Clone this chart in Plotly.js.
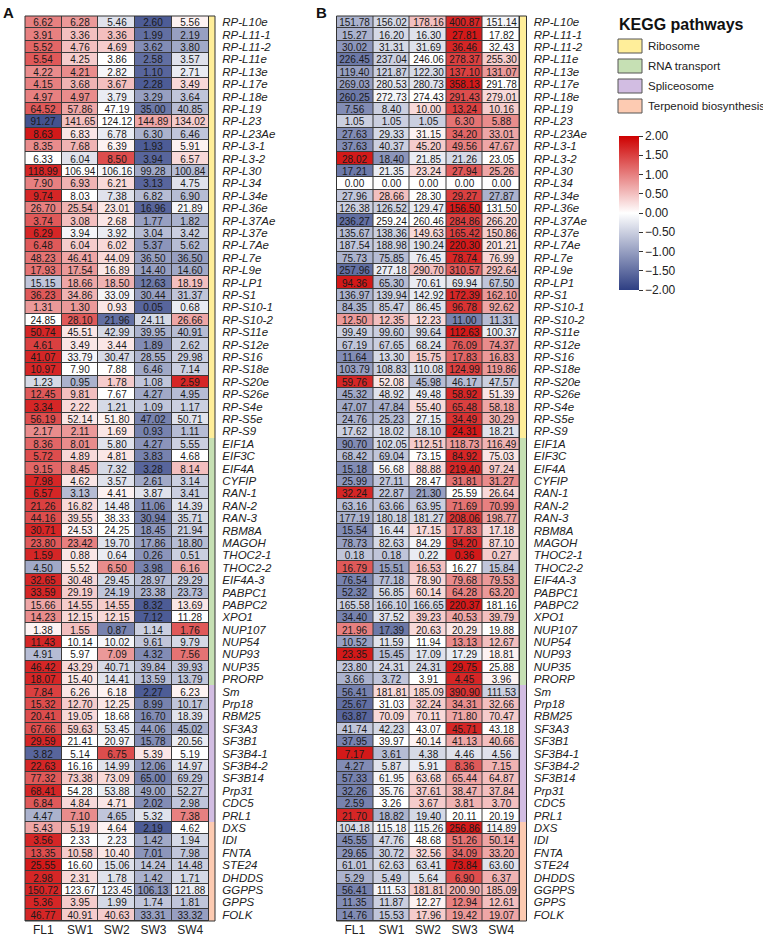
<!DOCTYPE html>
<html>
<head>
<meta charset="utf-8">
<script src="https://cdn.plot.ly/plotly-3.0.1.min.js"></script>
<style>html,body{margin:0;padding:0;background:#fff;}#chart{width:763px;height:940px;}</style>
</head>
<body>
<div id="chart"></div>
<script>
const samples = ['FL1','SW1','SW2','SW3','SW4'];

const ribosomeGenes = ['RP-L10e','RP-L11-1','RP-L11-2','RP-L11e','RP-L13e','RP-L17e','RP-L18e','RP-L19','RP-L23','RP-L23Ae','RP-L3-1','RP-L3-2','RP-L30','RP-L34','RP-L34e','RP-L36e','RP-L37Ae','RP-L37e','RP-L7Ae','RP-L7e','RP-L9e','RP-LP1','RP-S1','RP-S10-1','RP-S10-2','RP-S11e','RP-S12e','RP-S16','RP-S18e','RP-S20e','RP-S26e','RP-S4e','RP-S5e','RP-S9'];
const rnaTransportGenes = ['EIF1A','EIF3C','EIF4A','CYFIP','RAN-1','RAN-2','RAN-3','RBM8A','MAGOH','THOC2-1','THOC2-2','EIF4A-3','PABPC1','PABPC2','XPO1','NUP107','NUP54','NUP93','NUP35','PRORP'];
const spliceosomeGenes = ['Sm','Prp18','RBM25','SF3A3','SF3B1','SF3B4-1','SF3B4-2','SF3B14','Prp31','CDC5','PRL1'];
const terpenoidGenes = ['DXS','IDI','FNTA','STE24','DHDDS','GGPPS','GPPS','FOLK'];

const pathways = ['Ribosome','RNA transport','Spliceosome','Terpenoid biosynthesis'];
const pathwayColors = ['#FFEE9A','#C6E0B4','#D2BDE2','#FDCBB2'];

// Panel A displayed values
const valuesA = [
[6.62,6.28,5.46,2.60,5.56],[3.91,3.36,3.36,1.99,2.19],[5.52,4.76,4.69,3.62,3.80],[5.54,4.25,3.86,2.58,3.57],
[4.22,4.21,2.82,1.10,2.71],[4.15,3.68,3.67,2.28,3.49],[4.97,4.97,3.79,3.29,3.64],[64.52,57.86,47.19,35.00,40.85],
[91.27,141.65,124.12,144.89,134.02],[8.63,6.83,6.78,6.30,6.46],[8.35,7.68,6.39,1.93,5.91],[6.33,6.04,8.50,3.94,6.57],
[118.99,106.94,106.16,99.28,100.84],[7.90,6.93,6.21,3.13,4.75],[9.74,8.03,7.38,6.82,6.90],[26.70,25.54,23.01,16.96,21.89],
[3.74,3.08,2.68,1.77,1.82],[6.29,3.94,3.92,3.04,3.42],[6.48,6.04,6.02,5.37,5.62],[48.23,46.41,44.09,36.50,36.50],
[17.93,17.54,16.89,14.40,14.60],[15.15,18.66,18.50,12.63,18.19],[36.23,34.86,33.09,30.44,31.37],[1.31,1.30,0.93,0.05,0.68],
[24.85,28.10,21.96,24.11,26.66],[50.74,45.51,42.99,39.95,40.91],[4.61,3.49,3.44,1.89,2.62],[41.07,33.79,30.47,28.55,29.98],
[10.97,7.90,7.88,6.46,7.14],[1.23,0.95,1.78,1.08,2.59],[12.45,9.81,7.67,4.27,4.95],[3.34,2.22,1.21,1.09,1.17],
[56.19,52.14,51.80,47.02,50.71],[2.17,2.11,1.69,0.93,1.11],
[8.36,8.01,5.80,4.27,5.55],[5.72,4.89,4.81,3.83,4.68],[9.15,8.45,7.32,3.28,8.14],[7.98,4.62,3.57,2.61,3.14],
[6.57,3.13,4.41,3.87,3.41],[21.26,16.82,14.48,11.06,14.39],[44.16,39.55,38.33,30.94,35.71],[30.71,24.53,24.25,18.45,21.94],
[23.80,23.42,19.70,17.86,18.80],[1.59,0.88,0.64,0.26,0.51],[4.50,5.52,6.50,3.98,6.16],[32.65,30.48,29.45,28.97,29.29],
[33.59,29.19,24.19,23.38,23.73],[15.66,14.55,14.55,8.32,13.69],[14.23,12.15,12.15,7.12,11.28],[1.38,1.55,0.87,1.14,1.76],
[11.43,10.14,10.02,9.61,9.79],[4.91,5.97,7.09,4.32,7.56],[46.42,43.29,40.71,39.84,39.93],[18.07,15.40,14.41,13.59,13.79],
[7.84,6.26,6.18,2.27,6.23],[15.32,12.70,12.25,8.99,10.17],[20.41,19.05,18.68,16.70,18.39],[67.66,59.63,53.45,44.06,45.02],
[29.59,21.41,20.97,15.78,20.56],[3.82,5.14,6.75,5.39,5.19],[22.63,16.16,14.99,12.06,14.97],[77.32,73.38,73.09,65.00,69.29],
[68.41,54.28,53.88,49.00,52.27],[6.84,4.84,4.71,2.02,2.98],[4.47,7.10,4.65,5.32,7.38],
[5.43,5.19,4.64,2.19,4.62],[3.56,2.33,2.23,1.42,1.94],[13.35,10.58,10.40,7.01,7.98],[25.55,16.60,15.06,14.24,14.48],
[2.98,2.31,1.78,1.42,1.71],[150.72,123.67,123.45,106.13,121.88],[5.36,3.95,1.99,1.74,1.81],[46.77,40.91,40.63,33.31,33.32]
];

// Panel A colour scores
const colorA = [
[1.0,0.8,-0.3,-1.7,0.1],[1.0,0.5,0.5,-1.5,-1.0],[1.2,0.5,0.4,-1.2,-0.9],[1.3,0.4,0.0,-1.5,-0.3],
[0.9,0.9,-0.1,-1.6,-0.2],[1.0,0.6,0.5,-1.7,0.3],[1.0,0.9,-0.2,-1.0,-0.6],[1.3,0.7,0.0,-1.4,-0.7],
[-1.8,0.5,0.0,0.7,0.4],[1.8,0.2,-0.2,-0.8,-0.6],[0.9,0.6,0.1,-1.7,0.1],[0.0,-0.3,1.4,-1.6,0.3],
[1.7,0.0,-0.1,-0.9,-0.7],[1.0,0.6,0.3,-1.6,-0.3],[1.7,0.0,-0.3,-0.7,-0.7],[1.0,0.6,0.2,-1.6,-0.1],
[1.3,0.5,0.2,-1.0,-0.8],[1.7,-0.1,-0.2,-0.7,-0.5],[1.3,0.4,0.3,-1.1,-0.7],[1.1,0.7,0.3,-1.0,-1.0],
[1.1,0.8,0.2,-1.0,-0.9],[-0.6,0.7,0.6,-1.4,0.5],[1.3,0.6,-0.1,-1.0,-0.6],[0.8,0.8,0.2,-1.6,-0.2],
[0.0,1.3,-1.5,-0.4,0.7],[1.7,0.2,-0.4,-0.8,-0.7],[1.5,0.2,0.2,-1.2,-0.5],[1.7,-0.1,-0.4,-0.8,-0.5],
[1.7,0.0,0.0,-0.9,-0.5],[-0.4,-0.8,0.4,-0.6,1.7],[1.3,0.5,0.0,-0.9,-0.7],[1.7,0.3,-0.4,-0.6,-0.5],
[1.4,0.2,0.1,-1.3,-0.3],[0.9,0.8,0.2,-1.3,-0.7],
[1.2,0.9,-0.3,-1.1,-0.5],[1.4,0.3,0.2,-1.3,0.0],[1.2,0.8,-0.4,-1.6,0.5],[1.7,0.2,-0.3,-0.9,-0.5],
[1.7,-0.7,0.1,-0.3,-0.5],[1.5,0.3,-0.2,-1.2,-0.3],[1.4,0.3,0.0,-1.3,-0.4],[1.7,0.1,0.0,-1.1,-0.5],
[1.3,1.0,-0.3,-1.0,-0.7],[1.7,0.2,-0.2,-1.1,-0.5],[-0.9,0.2,0.9,-1.3,0.7],[1.7,0.3,-0.4,-0.7,-0.5],
[1.7,0.4,-0.6,-0.8,-0.7],[0.7,0.4,0.4,-1.7,0.2],[0.9,0.3,0.3,-1.7,0.0],[0.1,0.5,-1.3,-0.5,1.3],
[1.7,0.0,-0.1,-0.6,-0.4],[-0.7,0.0,0.8,-1.2,1.1],[1.7,0.3,-0.4,-0.7,-0.6],[1.7,0.2,-0.3,-0.7,-0.6],
[1.5,0.2,0.1,-1.7,0.1],[1.4,0.4,0.2,-1.3,-0.6],[1.4,0.3,0.0,-1.2,-0.3],[1.4,0.4,-0.2,-1.0,-0.8],
[1.7,0.0,-0.1,-1.2,-0.2],[-1.6,0.0,1.4,0.2,0.0],[1.7,0.0,-0.3,-1.1,-0.3],[1.3,0.4,0.3,-1.3,-0.6],
[1.7,0.0,-0.2,-0.9,-0.5],[1.3,0.3,0.2,-1.2,-0.6],[-0.8,0.9,-0.6,-0.3,1.0],
[0.7,0.5,0.1,-1.7,0.0],[1.7,0.0,-0.1,-0.9,-0.4],[1.4,0.4,0.2,-1.1,-0.6],[1.8,0.0,-0.3,-0.6,-0.5],
[1.7,0.3,-0.3,-0.8,-0.4],[1.7,0.0,-0.1,-1.1,-0.2],[1.7,0.4,-0.4,-0.6,-0.6],[1.7,0.4,0.4,-1.0,-1.0]
];

// Panel B displayed values
const valuesB = [
[151.78,156.02,178.16,400.87,151.14],[15.27,16.20,16.30,27.81,17.82],[30.02,31.31,31.69,36.46,32.43],[226.45,237.04,246.06,278.37,255.30],
[119.40,121.87,122.30,137.10,131.07],[269.03,280.53,280.73,358.13,291.78],[260.25,272.73,274.43,291.43,279.01],[7.56,8.40,10.00,13.24,10.16],
[1.05,1.05,1.05,6.30,5.88],[27.63,29.33,31.15,34.20,33.01],[37.63,40.37,45.20,49.56,47.67],[28.02,18.40,21.85,21.26,23.05],
[17.21,21.35,23.24,27.94,25.26],[0,0,0,0,0],[27.96,28.66,28.30,29.27,27.87],[126.38,126.52,129.47,156.50,131.50],
[236.27,259.24,260.46,284.86,266.20],[135.67,138.36,149.63,165.42,150.86],[187.54,188.98,190.24,220.30,201.21],[75.73,75.85,76.45,78.74,76.99],
[257.96,277.18,290.70,310.57,292.64],[94.36,65.30,70.61,69.94,67.50],[136.97,139.94,142.92,172.39,162.10],[84.35,85.47,86.45,96.78,92.62],
[12.50,12.35,12.23,11.00,11.31],[99.49,99.60,99.64,112.63,100.37],[67.19,67.65,68.24,76.09,74.37],[11.64,13.30,15.75,17.83,16.83],
[103.79,108.83,110.08,124.99,119.86],[59.76,52.08,45.98,46.17,47.57],[45.32,48.92,49.48,58.92,51.39],[47.07,47.84,55.40,65.48,58.18],
[24.76,25.23,27.15,34.49,30.29],[17.62,18.02,18.10,24.31,18.21],
[90.70,102.05,112.51,118.73,116.49],[68.42,69.04,73.15,84.92,75.03],[15.18,56.68,88.88,219.40,97.24],[25.99,27.11,28.47,31.81,31.27],
[32.24,22.87,21.30,25.59,26.64],[63.16,63.66,63.95,71.69,70.99],[177.19,180.18,181.27,208.06,198.77],[15.54,16.44,17.15,17.83,17.18],
[78.73,82.63,84.29,94.20,87.10],[0.18,0.18,0.22,0.36,0.27],[16.79,15.51,16.53,16.27,15.84],[76.54,77.18,78.90,79.68,79.53],
[52.32,56.85,60.14,64.28,63.20],[165.58,166.10,166.65,220.37,181.16],[34.40,37.52,39.23,40.53,39.79],[21.96,17.39,20.63,20.29,19.88],
[10.52,11.59,11.94,13.13,12.67],[23.35,15.45,17.09,17.29,18.81],[23.80,24.31,24.31,29.75,25.88],[3.66,3.72,3.91,4.45,3.96],
[56.41,181.81,185.09,390.90,111.53],[25.67,31.03,32.24,34.31,32.66],[63.87,70.09,70.11,71.80,70.47],[41.74,42.23,43.07,45.71,43.18],
[37.95,39.97,40.14,41.13,40.66],[7.17,3.61,4.38,4.46,4.56],[4.27,5.87,5.91,8.36,7.15],[57.33,61.95,63.68,65.44,64.87],
[32.26,35.76,37.61,38.47,37.84],[2.59,3.26,3.67,3.81,3.70],[21.70,18.82,19.40,20.11,20.19],
[104.18,115.18,115.26,256.86,114.89],[45.55,47.76,48.68,51.26,50.14],[29.65,30.72,32.56,34.09,33.20],[61.01,62.63,63.41,73.84,63.60],
[5.29,5.49,5.64,6.90,6.37],[56.41,111.53,181.81,200.90,185.09],[11.35,11.87,12.27,12.94,12.61],[14.76,15.53,17.96,19.42,19.07]
];

// Panel B colour scores
const colorB = [
[-0.8,-0.4,0.5,1.7,-0.1],[-0.8,-0.4,-0.3,1.8,0.0],[-1.1,-0.4,-0.3,1.7,0.0],[-1.4,-0.5,0.0,1.5,0.4],
[-1.0,-0.5,-0.4,1.5,0.8],[-1.0,-0.3,-0.3,1.8,0.0],[-1.4,-0.1,0.0,1.4,0.3],[-1.2,-0.5,0.3,1.5,0.4],
[-0.5,-0.5,-0.5,1.1,0.9],[-1.2,-0.4,0.1,1.2,0.7],[-1.2,-0.5,0.4,1.0,0.7],[1.8,-1.1,-0.2,-0.4,0.0],
[-1.4,-0.2,0.3,1.3,0.7],[0,0,0,0,0],[-0.6,0.5,0.0,1.5,-0.8],[-0.5,-0.5,-0.2,1.8,0.0],
[-1.5,0.0,0.0,1.5,0.3],[-0.7,-0.5,0.3,1.5,0.4],[-0.6,-0.5,-0.3,1.8,0.2],[-0.8,-0.7,-0.2,1.7,0.3],
[-1.5,-0.2,0.5,1.3,0.5],[1.8,-0.7,-0.2,-0.3,-0.6],[-0.8,-0.5,-0.2,1.7,0.8],[-0.8,-0.5,-0.3,1.6,0.7],
[0.8,0.5,0.3,-1.3,-0.7],[-0.5,-0.5,-0.4,1.8,-0.2],[-0.6,-0.5,-0.3,1.3,0.9],[-1.2,-0.4,0.4,1.2,0.8],
[-1.0,-0.5,-0.3,1.5,0.8],[1.7,0.2,-0.7,-0.7,-0.5],[-0.9,-0.3,-0.2,1.7,0.2],[-0.9,-0.8,0.3,1.5,0.7],
[-0.8,-0.7,-0.2,1.6,0.6],[-0.5,-0.4,-0.4,1.8,-0.3],
[-1.2,-0.4,0.4,0.8,0.6],[-0.7,-0.6,0.0,1.7,0.2],[-1.2,-0.1,0.3,1.7,0.4],[-1.1,-0.6,0.0,1.1,0.9],
[1.7,-0.6,-1.0,0.0,0.3],[-0.7,-0.6,-0.5,1.1,1.0],[-0.8,-0.5,-0.4,1.6,0.7],[-1.2,-0.3,0.3,1.1,0.3],
[-1.0,-0.4,-0.1,1.7,0.3],[-0.6,-0.6,-0.2,1.8,0.4],[1.3,-1.0,0.5,0.0,-0.6],[-1.3,-0.7,0.3,0.9,0.8],
[-1.3,-0.4,0.3,1.0,0.8],[-0.5,-0.5,-0.4,1.8,0.0],[-1.3,-0.3,0.4,0.7,0.5],[1.0,-1.4,0.3,0.2,0.0],
[-1.0,-0.3,0.0,0.9,0.5],[1.8,-0.7,-0.3,-0.2,0.1],[-0.6,-0.4,-0.4,1.8,0.0],[-0.8,-0.6,0.0,1.7,0.1],
[-1.3,0.3,0.3,1.6,-0.5],[-1.5,0.0,0.4,0.9,0.5],[-1.6,0.3,0.3,0.7,0.4],[-0.6,-0.4,0.0,1.7,0.0],
[-1.3,0.0,0.1,0.7,0.5],[1.8,-0.7,-0.4,-0.3,-0.3],[-1.2,-0.3,-0.2,1.3,0.6],[-1.3,-0.1,0.3,0.7,0.5],
[-1.3,-0.1,0.4,0.6,0.5],[-1.3,0.0,0.4,0.6,0.5],[1.7,-0.8,-0.4,0.0,0.0],
[-0.4,-0.1,-0.1,1.8,-0.1],[-1.2,-0.4,0.0,1.1,0.7],[-1.1,-0.5,0.3,1.2,0.7],[-0.6,-0.4,-0.3,1.8,-0.3],
[-0.8,-0.5,-0.3,1.4,0.6],[-1.3,-0.1,0.4,0.6,0.5],[-1.2,-0.5,0.1,1.0,0.5],[-1.2,-0.6,0.4,0.8,0.7]
];

const colorbarTicks = [-2,-1.5,-1,-0.5,0,0.5,1,1.5,2];

// ---------- build ----------
const W = 763, H = 940;
const FONT = 'Liberation Sans, Arial, Helvetica, sans-serif';
const genes = ribosomeGenes.concat(rnaTransportGenes, spliceosomeGenes, terpenoidGenes);
const groupSizes = [ribosomeGenes.length, rnaTransportGenes.length, spliceosomeGenes.length, terpenoidGenes.length];
const rowGroup = [];
groupSizes.forEach((n, g) => { for (let i = 0; i < n; i++) rowGroup.push([g]); });
const rows = genes.map((_, i) => i);
const cols = samples.map((_, i) => i);
const fmt = v => v.toFixed(2);
const textA = valuesA.map(r => r.map(fmt));
const textB = valuesB.map(r => r.map(fmt));

const heatScale = [[0,'#2E3F83'],[0.5,'#FFFFFF'],[1,'#CE0000']];
const nP = pathwayColors.length;
const stripScale = [];
pathwayColors.forEach((c, i) => {
  stripScale.push([i / nP, c]);
  stripScale.push([(i + 1) / nP - (i + 1 < nP ? 1e-6 : 0), c]);
});

const px = v => v / W;
const py = t => 1 - t / H;
const yTop = 16, yBot = 921;

function heat(z, text, xa, ya, showscale) {
  return {
    type: 'heatmap', x: cols, y: rows, z: z, text: text,
    texttemplate: '%{text}', textfont: {family: FONT, size: 10, color: '#1a1a1a'},
    colorscale: heatScale, zmin: -2, zmax: 2, xgap: 1, ygap: 1,
    xaxis: xa, yaxis: ya, hoverinfo: 'skip', showscale: showscale,
    colorbar: {
      x: px(619), xanchor: 'left', xref: 'paper', y: py(136), yanchor: 'top', yref: 'paper',
      len: 154 / H, lenmode: 'fraction', thickness: 20, thicknessmode: 'pixels',
      xpad: 0, ypad: 0, outlinewidth: 0,
      tickvals: colorbarTicks,
      ticktext: colorbarTicks.map(v => (v < 0 ? '\u2212' : '') + Math.abs(v).toFixed(2)),
      ticks: 'outside', ticklen: 4, tickcolor: '#333', tickwidth: 1,
      tickfont: {family: FONT, size: 12, color: '#222'}
    }
  };
}
function strip(xa, ya) {
  return {
    type: 'heatmap', x: [0], y: rows, z: rowGroup, colorscale: stripScale,
    zmin: 0, zmax: nP - 1, showscale: false, xgap: 0, ygap: 0,
    xaxis: xa, yaxis: ya, hoverinfo: 'skip'
  };
}

const data = [
  heat(colorA, textA, 'x', 'y', true),
  strip('x2', 'y'),
  heat(colorB, textB, 'x3', 'y2', false),
  strip('x4', 'y2')
];

const heatX = (dom, anchor) => ({
  domain: dom, anchor: anchor, range: [-0.5, 4.5], tickvals: cols, ticktext: samples,
  showgrid: false, zeroline: false, showline: false, ticks: '', ticklen: 0,
  tickfont: {family: FONT, size: 12, color: '#222'}, fixedrange: true
});
const stripX = (dom, anchor) => ({
  domain: dom, anchor: anchor, range: [-0.5, 0.5], showticklabels: false,
  showgrid: false, zeroline: false, showline: false, ticks: ''
});
const geneY = anchor => ({
  domain: [py(yBot), py(yTop)], anchor: anchor, side: 'right',
  range: [genes.length - 0.5, -0.5], tickvals: rows, ticktext: genes.map(g => '<i>' + g + '</i>'),
  showgrid: false, zeroline: false, showline: false,
  ticks: 'outside', ticklen: 4, tickcolor: 'rgba(0,0,0,0)',
  tickfont: {family: FONT, size: 11.5, color: '#222'}
});

const shapes = [];
[['x','y'],['x2','y'],['x3','y2'],['x4','y2']].forEach(([xa, ya]) => {
  shapes.push({type: 'rect', xref: xa + ' domain', yref: ya + ' domain', x0: 0, x1: 1, y0: 0, y1: 1,
    line: {color: '#333', width: 1}, fillcolor: 'rgba(0,0,0,0)'});
});

const annotations = [
  {text: '<b>A</b>', x: px(1), y: py(12), xref: 'paper', yref: 'paper', xanchor: 'left', yanchor: 'middle',
   showarrow: false, font: {family: FONT, size: 15, color: '#111'}},
  {text: '<b>B</b>', x: px(314), y: py(12), xref: 'paper', yref: 'paper', xanchor: 'left', yanchor: 'middle',
   showarrow: false, font: {family: FONT, size: 15, color: '#111'}},
  {text: '<b>KEGG pathways</b>', x: px(617), y: py(25), xref: 'paper', yref: 'paper', xanchor: 'left', yanchor: 'middle',
   showarrow: false, font: {family: FONT, size: 16, color: '#111'}}
];
pathways.forEach((p, i) => {
  const top = 39 + i * 20;
  shapes.push({type: 'rect', xref: 'paper', yref: 'paper', x0: px(618), x1: px(642), y0: py(top + 14), y1: py(top),
    fillcolor: pathwayColors[i], line: {color: '#555', width: 1}});
  annotations.push({text: p, x: px(646), y: py(top + 7), xref: 'paper', yref: 'paper', xanchor: 'left', yanchor: 'middle',
    showarrow: false, font: {family: FONT, size: 11.5, color: '#222'}});
});

const layout = {
  width: W, height: H, margin: {l: 0, r: 0, t: 0, b: 0},
  paper_bgcolor: '#fff', plot_bgcolor: '#3a3a3a', showlegend: false,
  font: {family: FONT, color: '#222'},
  xaxis: heatX([px(25), px(208.5)], 'y'),
  xaxis2: stripX([px(208.5), px(215)], 'y'),
  xaxis3: heatX([px(336.5), px(519.5)], 'y2'),
  xaxis4: stripX([px(519.5), px(526.5)], 'y2'),
  yaxis: geneY('x2'),
  yaxis2: geneY('x4'),
  shapes: shapes, annotations: annotations
};

Plotly.newPlot('chart', data, layout, {displayModeBar: false, staticPlot: true});
</script>
</body>
</html>
